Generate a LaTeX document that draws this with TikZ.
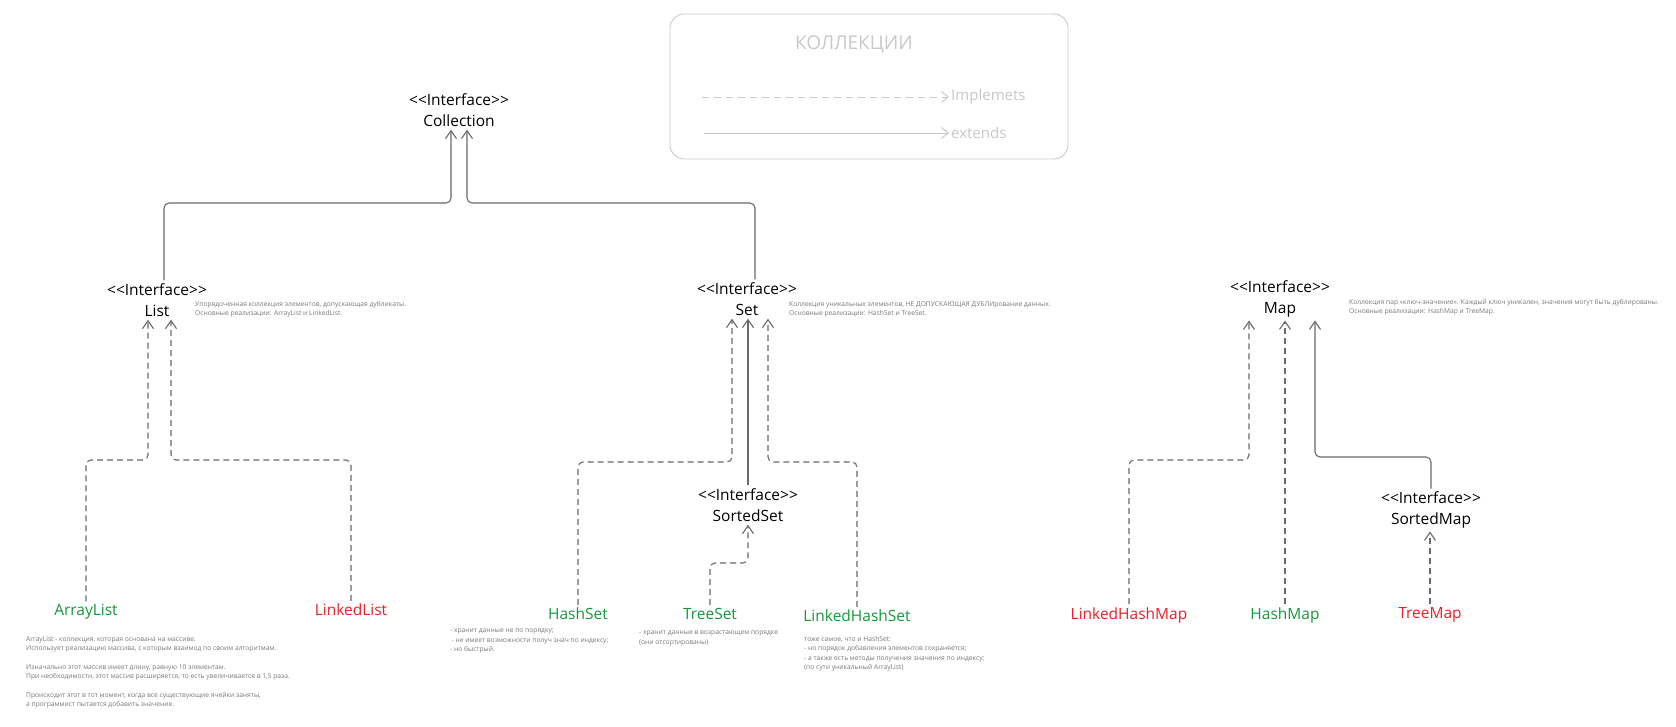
\documentclass[tikz,border=0pt]{standalone}
\usepackage{fontspec}
\setmainfont{Open Sans}
\usetikzlibrary{arrows.meta}
\definecolor{implgreen}{RGB}{22,150,60}
\definecolor{implred}{RGB}{232,32,42}
\definecolor{linegray}{RGB}{105,105,105}
\definecolor{notegray}{RGB}{120,120,120}
\definecolor{legendgray}{RGB}{200,200,200}
\newcommand{\stereo}{<\kern0pt<Interface>\kern0pt>}

\begin{document}
\begin{tikzpicture}[x=1pt,y=-1pt,
    iface/.style={align=center,font=\fontsize{15.5}{21}\selectfont,inner sep=3pt},
    leaf/.style={font=\fontsize{15.5}{19}\selectfont,inner sep=3pt},
    note/.style={align=left,anchor=north west,text=notegray,font=\fontsize{6.7}{9.5}\selectfont,inner sep=0pt},
    ext/.style={draw=linegray,line width=1.1pt,rounded corners=5pt,-{Straight Barb[length=8pt,width=11pt]}},
    impl/.style={ext,dash pattern=on 6pt off 4pt},
    keyline/.style={draw=legendgray,line width=0.9pt,-{Straight Barb[length=7pt,width=11pt]}}]

  \useasboundingbox (0,0) rectangle (1676,727);

  \begin{scope}[every node/.style={iface}]
    \node (collection) at (459,110) {\stereo\\Collection};
    \node (list)       at (157,300) {\stereo\\List};
    \node (set)        at (747,299) {\stereo\\Set};
    \node (map)        at (1280,299) {\stereo\\Map};
    \node (sortedset)  at (748,505) {\stereo\\SortedSet};
    \node (sortedmap)  at (1431,510) {\stereo\\SortedMap};
  \end{scope}

  \begin{scope}[every node/.style={leaf}]
    \node[text=implgreen] (arraylist)     at (86,612)   {ArrayList};
    \node[text=implred]   (linkedlist)    at (351,610)  {LinkedList};
    \node[text=implgreen] (hashset)       at (578,614)  {HashSet};
    \node[text=implgreen] (treeset)       at (710,614)  {TreeSet};
    \node[text=implgreen] (linkedhashset) at (857,616)  {LinkedHashSet};
    \node[text=implred]   (linkedhashmap) at (1129,615) {LinkedHashMap};
    \node[text=implgreen] (hashmap)       at (1285,615) {HashMap};
    \node[text=implred]   (treemap)       at (1430,615) {TreeMap};
  \end{scope}

  \begin{scope}[every node/.style={note}]
    \node (listnote) at (195,301) {Упорядоченная коллекция элементов, допускающая дубликаты.\\Основные реализации: ArrayList и LinkedList.};
    \node (setnote) at (789,301) {Коллекция уникальных элементов, НЕ ДОПУСКАЮЩАЯ ДУБЛИрование данных.\\Основные реализации: HashSet и TreeSet.};
    \node (mapnote) at (1349,299) {Коллекция пар «ключ-значение». Каждый ключ уникален, значения могут быть дублированы.\\Основные реализации: HashMap и TreeMap.};
    \node (arraylistnote) at (26,636) {ArrayList - коллекция, которая основана на массиве.\\Использует реализацию массива, с которым взаимод по своим алгоритмам.\\[9pt]Изначально этот массив имеет длину, равную 10 элементам.\\При необходимости, этот массив расширяется, то есть увеличивается в 1,5 раза.\\[9pt]Происходит этот в тот момент, когда все существующие ячейки заняты,\\а программист пытается добавить значение.};
    \node (hashsetnote) at (450,629) {- хранит данные не по порядку;\\\hspace{1.5pt}- не имеет возможности получ знач по индексу;\\- но быстрый.};
    \node (treesetnote) at (639,631) {- хранит данные в возрастающем порядке\\(они отсортированы)};
    \node (linkedhashsetnote) at (804,636) {тоже самое, что и HashSet:\\- но порядок добавления элементов сохраняется;\\- а также есть методы получения значения по индексу;\\(по сути уникальный ArrayList)};
  \end{scope}

  \coordinate (c1) at (451,203);
  \coordinate (c2) at (164,203);
  \coordinate (c3) at (467,203);
  \coordinate (c4) at (755,203);
  \coordinate (l1) at (148,460);
  \coordinate (l2) at (171,460);
  \coordinate (s1) at (732,462);
  \coordinate (s2) at (768,462);
  \coordinate (s3) at (748,563);
  \coordinate (m1) at (1249,460);
  \coordinate (m2) at (1315,457);

  \draw[ext] (c2 |- list.north) -- (c2) -- (c1) -- (c1 |- collection.south);
  \draw[ext] (c4 |- set.north) -- (c4) -- (c3) -- (c3 |- collection.south);

  \draw[impl] (arraylist.north) |- (l1) -- (l1 |- list.south);
  \draw[impl] (linkedlist.north) |- (l2) -- (l2 |- list.south);

  \draw[impl] (hashset.north) |- (s1) -- (s1 |- set.south);
  \draw[ext] (sortedset.north) -- (sortedset.north |- set.south);
  \draw[impl] (linkedhashset.north) |- (s2) -- (s2 |- set.south);
  \draw[impl] (treeset.north) |- (s3) -- (s3 |- sortedset.south);

  \draw[impl] (linkedhashmap.north) |- (m1) -- (m1 |- map.south);
  \draw[impl] (hashmap.north) -- (hashmap.north |- map.south);
  \draw[ext] (sortedmap.north) |- (m2) -- (m2 |- map.south);
  \draw[impl] (treemap.north) -- (treemap.north |- sortedmap.south);

  \draw[legendgray,line width=0.9pt,rounded corners=14pt] (670,14) rectangle (1068,159);
  \begin{scope}[every node/.style={text=legendgray,inner sep=2pt}]
    \node[font=\fontsize{19}{22}\selectfont] (legendtitle) at (854,44) {КОЛЛЕКЦИИ};
    \node[anchor=west,font=\fontsize{15}{18}\selectfont] (implkey) at (949,97) {Implemets};
    \node[anchor=west,font=\fontsize{15}{18}\selectfont] (extkey) at (949,133) {extends};
  \end{scope}
  \coordinate (implstart) at (702,97);
  \coordinate (extstart) at (704,133);
  \draw[keyline,dash pattern=on 7pt off 5pt] (implstart) -- (implkey.west);
  \draw[keyline] (extstart) -- (extkey.west);

\end{tikzpicture}
\end{document}
